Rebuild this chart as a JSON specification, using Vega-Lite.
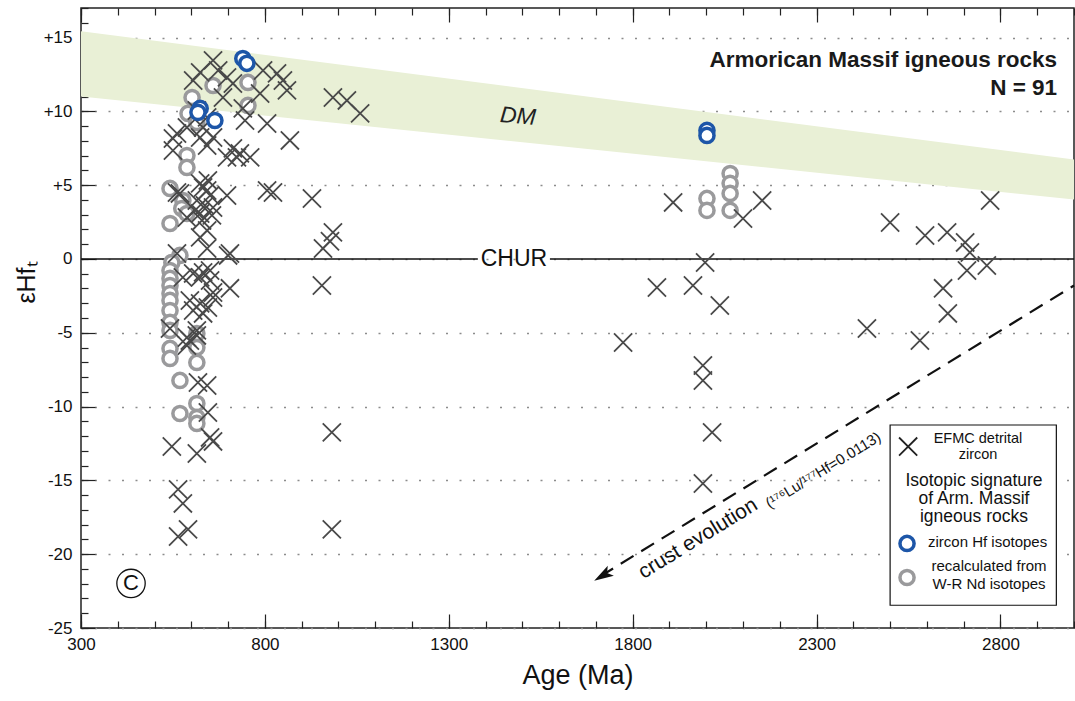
{
  "$schema": "https://vega.github.io/schema/vega-lite/v6.json",
  "width": 993,
  "height": 620,
  "autosize": {"type": "none"},
  "padding": {"left": 81, "top": 8, "right": 1, "bottom": 73},
  "background": "white",
  "config": {
    "font": "Liberation Sans",
    "view": {"stroke": "#222", "strokeWidth": 1.5},
    "axis": {"labelFont": "Liberation Sans", "titleFont": "Liberation Sans", "labelColor": "#111", "titleColor": "#111", "tickColor": "#222", "tickWidth": 1.2, "domain": false, "labelFlush": false}
  },
  "datasets": {
    "one": [{}],
    "band": [
      {"age": 300, "top": 15.43, "bottom": 11.01},
      {"age": 3000, "top": 6.74, "bottom": 4.03}
    ],
    "chur": [
      {"x1": 300, "x2": 1379},
      {"x1": 1575, "x2": 3000}
    ],
    "crust": [
      {"age": 1712, "ehf": -21.5},
      {"age": 3000, "ehf": -1.8}
    ],
    "efmc": [
      {"age": 659, "ehf": 13.45}, {"age": 624, "ehf": 12.64}, {"age": 605, "ehf": 12.09}, {"age": 697, "ehf": 12.3},
      {"age": 713, "ehf": 11.89}, {"age": 686, "ehf": 10.94}, {"age": 787, "ehf": 11.21}, {"age": 795, "ehf": 12.77},
      {"age": 833, "ehf": 12.57}, {"age": 860, "ehf": 11.42}, {"age": 849, "ehf": 12.09}, {"age": 673, "ehf": 12.77},
      {"age": 615, "ehf": 10.06}, {"age": 643, "ehf": 9.59}, {"age": 588, "ehf": 8.91}, {"age": 550, "ehf": 8.16},
      {"age": 624, "ehf": 8.23}, {"age": 659, "ehf": 8.23}, {"age": 746, "ehf": 9.38}, {"age": 806, "ehf": 9.18},
      {"age": 713, "ehf": 7.49}, {"age": 732, "ehf": 7.15}, {"age": 760, "ehf": 6.88}, {"age": 697, "ehf": 6.88},
      {"age": 868, "ehf": 8.03}, {"age": 985, "ehf": 10.94}, {"age": 1023, "ehf": 10.74}, {"age": 1059, "ehf": 9.86},
      {"age": 740, "ehf": 10.2}, {"age": 632, "ehf": 8.91}, {"age": 561, "ehf": 8.5}, {"age": 550, "ehf": 7.35},
      {"age": 643, "ehf": 7.69}, {"age": 724, "ehf": 6.88}, {"age": 561, "ehf": 4.5}, {"age": 624, "ehf": 5.12},
      {"age": 643, "ehf": 4.64}, {"age": 615, "ehf": 3.96}, {"age": 659, "ehf": 3.49}, {"age": 588, "ehf": 2.81},
      {"age": 629, "ehf": 2.61}, {"age": 643, "ehf": 1.93}, {"age": 697, "ehf": 4.3}, {"age": 624, "ehf": 1.46},
      {"age": 643, "ehf": 0.71}, {"age": 705, "ehf": 0.37}, {"age": 561, "ehf": 0.37}, {"age": 632, "ehf": 4.84},
      {"age": 569, "ehf": 4.44}, {"age": 624, "ehf": 3.08}, {"age": 806, "ehf": 4.64}, {"age": 822, "ehf": 4.5},
      {"age": 928, "ehf": 4.1}, {"age": 977, "ehf": 1.2}, {"age": 985, "ehf": 1.8}, {"age": 651, "ehf": 4.3},
      {"age": 637, "ehf": 3.63}, {"age": 610, "ehf": 3.29}, {"age": 656, "ehf": 2.95}, {"age": 645, "ehf": 5.32},
      {"age": 700, "ehf": 0.24}, {"age": 577, "ehf": -1.25}, {"age": 605, "ehf": -0.98}, {"age": 632, "ehf": -0.91},
      {"age": 651, "ehf": -0.78}, {"age": 596, "ehf": -2.81}, {"age": 624, "ehf": -3.01}, {"age": 645, "ehf": -3.29},
      {"age": 659, "ehf": -2.27}, {"age": 705, "ehf": -1.99}, {"age": 542, "ehf": -4.71}, {"age": 596, "ehf": -5.52},
      {"age": 615, "ehf": -5.18}, {"age": 618, "ehf": -8.37}, {"age": 643, "ehf": -8.57}, {"age": 645, "ehf": -10.4},
      {"age": 651, "ehf": -12.09}, {"age": 659, "ehf": -12.36}, {"age": 547, "ehf": -12.7}, {"age": 615, "ehf": -13.18},
      {"age": 564, "ehf": -15.61}, {"age": 577, "ehf": -16.56}, {"age": 591, "ehf": -18.32}, {"age": 564, "ehf": -18.8},
      {"age": 605, "ehf": -3.49}, {"age": 632, "ehf": -3.69}, {"age": 588, "ehf": -5.86}, {"age": 615, "ehf": -4.84},
      {"age": 588, "ehf": -5.32}, {"age": 659, "ehf": -2.61}, {"age": 624, "ehf": -1.25}, {"age": 651, "ehf": -1.46},
      {"age": 958, "ehf": 0.71}, {"age": 955, "ehf": -1.8}, {"age": 982, "ehf": -11.75}, {"age": 982, "ehf": -18.32},
      {"age": 1910, "ehf": 3.83}, {"age": 2152, "ehf": 3.96}, {"age": 2100, "ehf": 2.74}, {"age": 1997, "ehf": -0.24},
      {"age": 1866, "ehf": -1.93}, {"age": 1964, "ehf": -1.8}, {"age": 2037, "ehf": -3.15}, {"age": 2772, "ehf": 3.96},
      {"age": 2500, "ehf": 2.47}, {"age": 2595, "ehf": 1.59}, {"age": 2655, "ehf": 1.8}, {"age": 2704, "ehf": 1.12},
      {"age": 2717, "ehf": 0.44}, {"age": 2709, "ehf": -0.78}, {"age": 2763, "ehf": -0.44}, {"age": 2644, "ehf": -1.99},
      {"age": 1774, "ehf": -5.66}, {"age": 1991, "ehf": -7.22}, {"age": 1991, "ehf": -8.23}, {"age": 2016, "ehf": -11.75},
      {"age": 1991, "ehf": -15.21}, {"age": 2437, "ehf": -4.71}, {"age": 2581, "ehf": -5.52}, {"age": 2657, "ehf": -3.69}
    ],
    "gray": [
      {"age": 659, "ehf": 11.75}, {"age": 602, "ehf": 10.94}, {"age": 754, "ehf": 11.96}, {"age": 754, "ehf": 10.4},
      {"age": 591, "ehf": 9.86}, {"age": 615, "ehf": 9.25}, {"age": 588, "ehf": 7.01}, {"age": 588, "ehf": 6.2},
      {"age": 542, "ehf": 4.78}, {"age": 577, "ehf": 3.96}, {"age": 574, "ehf": 3.42}, {"age": 588, "ehf": 3.08},
      {"age": 542, "ehf": 2.4}, {"age": 569, "ehf": 0.24}, {"age": 547, "ehf": -0.24}, {"age": 542, "ehf": -0.78},
      {"age": 542, "ehf": -1.32}, {"age": 542, "ehf": -1.8}, {"age": 542, "ehf": -2.34}, {"age": 542, "ehf": -2.81},
      {"age": 542, "ehf": -3.49}, {"age": 542, "ehf": -4.3}, {"age": 542, "ehf": -4.84}, {"age": 542, "ehf": -6.06},
      {"age": 542, "ehf": -6.74}, {"age": 569, "ehf": -8.23}, {"age": 615, "ehf": -5.05}, {"age": 615, "ehf": -6.0},
      {"age": 615, "ehf": -7.01}, {"age": 569, "ehf": -10.47}, {"age": 615, "ehf": -9.79}, {"age": 615, "ehf": -10.74},
      {"age": 615, "ehf": -11.14}, {"age": 2002, "ehf": 4.1}, {"age": 2002, "ehf": 3.29}, {"age": 2065, "ehf": 5.79},
      {"age": 2065, "ehf": 5.12}, {"age": 2065, "ehf": 4.44}, {"age": 2065, "ehf": 3.29}
    ],
    "blue": [
      {"age": 740, "ehf": 13.58}, {"age": 751, "ehf": 13.25}, {"age": 624, "ehf": 10.2}, {"age": 618, "ehf": 9.93},
      {"age": 664, "ehf": 9.38}, {"age": 2002, "ehf": 8.71}, {"age": 2002, "ehf": 8.37}
    ]
  },
  "layer": [
    {
      "data": {"name": "band"},
      "mark": {"type": "area", "color": "#e9f0d6"},
      "encoding": {
        "x": {"field": "age", "type": "quantitative", "scale": {"domain": [300, 3000], "nice": false, "zero": false},
          "axis": {"orient": "bottom", "values": [300,400,500,600,700,800,900,1000,1100,1200,1300,1400,1500,1600,1700,1800,1900,2000,2100,2200,2300,2400,2500,2600,2700,2800,2900,3000], "tickSize": -7, "labels": false, "grid": false, "title": null}},
        "y": {"field": "top", "type": "quantitative", "scale": {"domain": [-25, 17], "nice": false, "zero": false},
          "axis": {"orient": "left", "values": [-25,-24,-23,-22,-21,-20,-19,-18,-17,-16,-15,-14,-13,-12,-11,-10,-9,-8,-7,-6,-5,-4,-3,-2,-1,0,1,2,3,4,5,6,7,8,9,10,11,12,13,14,15,16,17], "tickSize": -7, "labels": false, "grid": false, "title": null}},
        "y2": {"field": "bottom"}
      }
    },
    {
      "data": {"name": "chur"},
      "mark": {"type": "rule", "color": "#111", "strokeWidth": 1.6},
      "encoding": {
        "x": {"field": "x1", "type": "quantitative", "axis": null},
        "x2": {"field": "x2"},
        "y": {"datum": 0, "type": "quantitative", "axis": null}
      }
    },
    {
      "data": {"name": "crust"},
      "mark": {"type": "line", "color": "#111", "strokeWidth": 2.2, "strokeDash": [15, 9]},
      "encoding": {
        "x": {"field": "age", "type": "quantitative", "axis": null},
        "y": {"field": "ehf", "type": "quantitative", "axis": null}
      }
    },
    {
      "data": {"name": "one"},
      "mark": {"type": "point", "shape": "M-1,0L1,-0.6L0.55,0L1,0.6Z", "filled": true, "color": "#111", "opacity": 1, "size": 380, "angle": 328.5},
      "encoding": {
        "x": {"datum": 1718, "type": "quantitative", "axis": null},
        "y": {"datum": -21.46, "type": "quantitative", "axis": null}
      }
    },
    {
      "data": {"name": "gray"},
      "mark": {"type": "point", "shape": "circle", "size": 200, "fill": "white", "fillOpacity": 1, "stroke": "#9a9a9c", "strokeWidth": 3.5, "opacity": 1},
      "encoding": {
        "x": {"field": "age", "type": "quantitative",
          "axis": {"orient": "top", "values": [300,400,500,600,700,800,900,1000,1100,1200,1300,1400,1500,1600,1700,1800,1900,2000,2100,2200,2300,2400,2500,2600,2700,2800,2900,3000], "tickSize": -7, "labels": false, "grid": false, "title": null}},
        "y": {"field": "ehf", "type": "quantitative", "axis": null}
      }
    },
    {
      "data": {"name": "efmc"},
      "mark": {"type": "point", "shape": "M-1,-1L1,1M-1,1L1,-1", "size": 330, "filled": false, "stroke": "#4a4a4a", "strokeWidth": 1.8, "opacity": 1},
      "encoding": {
        "x": {"field": "age", "type": "quantitative",
          "axis": {"orient": "bottom", "values": [300, 800, 1300, 1800, 2300, 2800], "format": "d", "tickSize": -14, "labelPadding": 22, "labelFontSize": 17, "grid": false, "title": "Age (Ma)", "titleFontSize": 27, "titleFontWeight": "normal", "titlePadding": 10}},
        "y": {"field": "ehf", "type": "quantitative",
          "axis": {"orient": "left", "values": [-25, -20, -15, -10, -5, 0, 5, 10, 15], "tickSize": -14, "labelPadding": 23, "labelFontSize": 17,
            "labelExpr": "datum.value > 0 ? '+' + datum.value : '' + datum.value",
            "grid": true, "gridColor": "#8c8c8c", "gridDash": [2, 11.5], "gridWidth": 1.6,
            "title": "εHfₜ", "titleFontSize": 25, "titleFontWeight": "normal", "titlePadding": 4, "titleY": 274}}
      }
    },
    {
      "data": {"name": "blue"},
      "mark": {"type": "point", "shape": "circle", "size": 200, "fill": "white", "fillOpacity": 1, "stroke": "#1d56a8", "strokeWidth": 3.5, "opacity": 1},
      "encoding": {
        "x": {"field": "age", "type": "quantitative",
          "axis": {"orient": "top", "values": [300, 800, 1300, 1800, 2300, 2800], "tickSize": -14, "labels": false, "grid": false, "title": null}},
        "y": {"field": "ehf", "type": "quantitative", "axis": null}
      }
    },
    {
      "data": {"name": "one"},
      "mark": {"type": "rect", "fill": "white", "stroke": "#111", "strokeWidth": 1.2},
      "encoding": {
        "x": {"datum": 2500, "type": "quantitative", "axis": null},
        "x2": {"datum": 2952},
        "y": {"datum": -11.25, "type": "quantitative", "axis": null},
        "y2": {"datum": -23.46}
      }
    },
    {
      "data": {"name": "one"},
      "mark": {"type": "point", "shape": "M-1,-1L1,1M-1,1L1,-1", "size": 330, "filled": false, "stroke": "#222", "strokeWidth": 1.8, "opacity": 1},
      "encoding": {
        "x": {"datum": 2549, "type": "quantitative", "axis": null},
        "y": {"datum": -12.71, "type": "quantitative", "axis": null}
      }
    },
    {
      "data": {"name": "one"},
      "mark": {"type": "point", "shape": "circle", "size": 200, "fill": "white", "fillOpacity": 1, "stroke": "#1d56a8", "strokeWidth": 3.5, "opacity": 1},
      "encoding": {
        "x": {"datum": 2546, "type": "quantitative", "axis": null},
        "y": {"datum": -19.27, "type": "quantitative", "axis": null}
      }
    },
    {
      "data": {"name": "one"},
      "mark": {"type": "point", "shape": "circle", "size": 200, "fill": "white", "fillOpacity": 1, "stroke": "#9a9a9c", "strokeWidth": 3.5, "opacity": 1},
      "encoding": {
        "x": {"datum": 2546, "type": "quantitative", "axis": null},
        "y": {"datum": -21.58, "type": "quantitative", "axis": null}
      }
    },
    {
      "data": {"name": "one"},
      "mark": {"type": "text", "text": ["EFMC detrital", "zircon"], "fontSize": 14.5, "lineHeight": 16, "align": "center", "baseline": "middle", "color": "#111"},
      "encoding": {
        "x": {"datum": 2739, "type": "quantitative", "axis": null},
        "y": {"datum": -12.2, "type": "quantitative", "axis": null}
      }
    },
    {
      "data": {"name": "one"},
      "mark": {"type": "text", "text": ["Isotopic signature", "of Arm. Massif", "igneous rocks"], "fontSize": 17.5, "lineHeight": 18, "align": "center", "baseline": "middle", "color": "#111"},
      "encoding": {
        "x": {"datum": 2728, "type": "quantitative", "axis": null},
        "y": {"datum": -15.05, "type": "quantitative", "axis": null}
      }
    },
    {
      "data": {"name": "one"},
      "mark": {"type": "text", "text": "zircon Hf isotopes", "fontSize": 15, "align": "left", "baseline": "middle", "color": "#111"},
      "encoding": {
        "x": {"datum": 2603, "type": "quantitative", "axis": null},
        "y": {"datum": -19.2, "type": "quantitative", "axis": null}
      }
    },
    {
      "data": {"name": "one"},
      "mark": {"type": "text", "text": ["recalculated from", "W-R Nd isotopes"], "fontSize": 15, "lineHeight": 18, "align": "center", "baseline": "middle", "color": "#111"},
      "encoding": {
        "x": {"datum": 2769, "type": "quantitative", "axis": null},
        "y": {"datum": -20.77, "type": "quantitative", "axis": null}
      }
    },
    {
      "data": {"name": "one"},
      "mark": {"type": "text", "text": "Armorican Massif igneous rocks", "fontSize": 22.5, "fontWeight": "bold", "align": "right", "baseline": "middle", "color": "#1a1a1a"},
      "encoding": {
        "x": {"datum": 2954, "type": "quantitative", "axis": null},
        "y": {"datum": 13.45, "type": "quantitative", "axis": null}
      }
    },
    {
      "data": {"name": "one"},
      "mark": {"type": "text", "text": "N = 91", "fontSize": 22.5, "fontWeight": "bold", "align": "right", "baseline": "middle", "color": "#1a1a1a"},
      "encoding": {
        "x": {"datum": 2954, "type": "quantitative", "axis": null},
        "y": {"datum": 11.55, "type": "quantitative", "axis": null}
      }
    },
    {
      "data": {"name": "one"},
      "mark": {"type": "text", "text": "DM", "fontSize": 23, "fontStyle": "italic", "align": "center", "baseline": "middle", "angle": 5, "color": "#222"},
      "encoding": {
        "x": {"datum": 1488, "type": "quantitative", "axis": null},
        "y": {"datum": 9.65, "type": "quantitative", "axis": null}
      }
    },
    {
      "data": {"name": "one"},
      "mark": {"type": "text", "text": "CHUR", "fontSize": 23, "align": "center", "baseline": "middle", "color": "#111"},
      "encoding": {
        "x": {"datum": 1477, "type": "quantitative", "axis": null},
        "y": {"datum": 0, "type": "quantitative", "axis": null}
      }
    },
    {
      "data": {"name": "one"},
      "mark": {"type": "point", "shape": "circle", "size": 804, "fill": "white", "fillOpacity": 1, "stroke": "#111", "strokeWidth": 1.3, "opacity": 1},
      "encoding": {
        "x": {"datum": 436, "type": "quantitative", "axis": null},
        "y": {"datum": -21.98, "type": "quantitative", "axis": null}
      }
    },
    {
      "data": {"name": "one"},
      "mark": {"type": "text", "text": "C", "fontSize": 22, "align": "center", "baseline": "middle", "color": "#111"},
      "encoding": {
        "x": {"datum": 436, "type": "quantitative", "axis": null},
        "y": {"datum": -21.98, "type": "quantitative", "axis": null}
      }
    },
    {
      "data": {"name": "one"},
      "mark": {"type": "text", "text": "crust evolution", "fontSize": 21, "align": "center", "baseline": "middle", "angle": 328.5, "color": "#111"},
      "encoding": {
        "x": {"datum": 1978, "type": "quantitative", "axis": null},
        "y": {"datum": -18.95, "type": "quantitative", "axis": null}
      }
    },
    {
      "data": {"name": "one"},
      "mark": {"type": "text", "text": "(¹⁷⁶Lu/¹⁷⁷Hf=0.0113)", "fontSize": 15, "align": "center", "baseline": "middle", "angle": 328.5, "color": "#111"},
      "encoding": {
        "x": {"datum": 2318, "type": "quantitative", "axis": null},
        "y": {"datum": -14.3, "type": "quantitative", "axis": null}
      }
    }
  ],
  "resolve": {"axis": {"x": "independent", "y": "independent"}}
}
